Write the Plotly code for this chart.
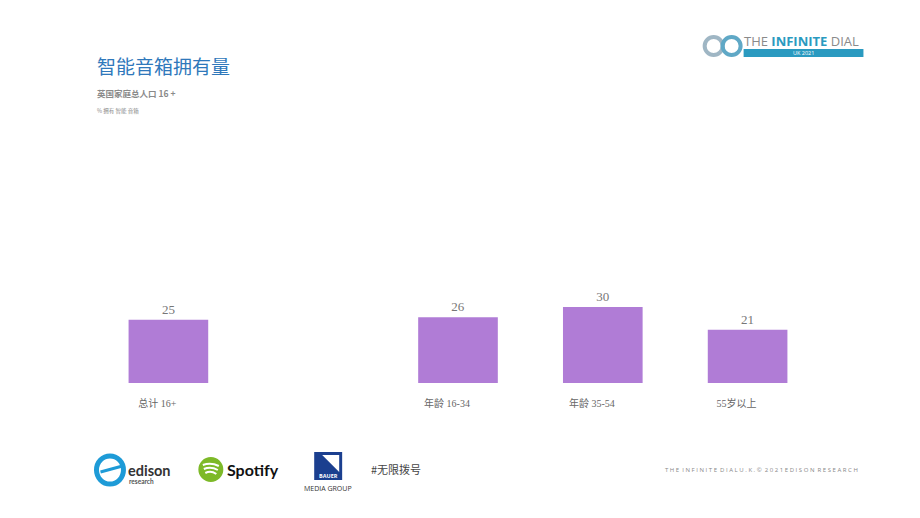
import plotly.graph_objects as go

categories = ["总计 16+", " ", "年龄 16-34", "年龄 35-54", "55岁以上"]
values = [25, None, 26, 30, 21]
labels = ["25", "", "26", "30", "21"]

W_PX, H_PX = 920, 518
L, R, T, B = 95.5, 99.5, 130, 135
PW = W_PX - L - R
PH = H_PX - T - B


def xp(px):
    return (px - L) / PW


def yp(py):
    return (T + PH - py) / PH


fig = go.Figure()
fig.add_trace(go.Bar(
    x=categories, y=values, width=0.55,
    marker=dict(color="#b07cd6", line=dict(width=0)),
    text=labels, textposition="outside", cliponaxis=False,
    textfont=dict(family="Liberation Serif", size=13, color="#777777"),
    hoverinfo="skip",
))

shapes = []
ann = []


def text(px, py, s, size, color, anchor="left", family="Noto Sans CJK SC", yanchor="middle"):
    ann.append(dict(x=xp(px), y=yp(py), xref="paper", yref="paper", text=s, showarrow=False,
                    xanchor=anchor, yanchor=yanchor, borderpad=0,
                    font=dict(size=size, color=color, family=family)))


# Titles
text(95, 66, "智能音箱拥有量", 19, "#2f78bb")
text(95, 93, "<b>英国家庭总人口 16 +</b>", 8.5, "#8a8a8a")
text(95, 111, "% 拥有 智能 音箱", 5.5, "#8a8a8a")

# Infinite Dial logo
for cx, col in [(714, "#9fb6c4"), (732, "#5fa8c6")]:
    shapes.append(dict(type="circle", xref="paper", yref="paper",
                       x0=xp(cx - 9), x1=xp(cx + 9), y0=yp(46 + 9), y1=yp(46 - 9),
                       line=dict(color=col, width=4)))
text(743, 41, "THE <b><span style='color:#2a9ac0'>INFINITE</span></b> DIAL", 13, "#8a8a8a", family="Open Sans")
shapes.append(dict(type="rect", xref="paper", yref="paper",
                   x0=xp(744), x1=xp(864), y0=yp(57), y1=yp(49),
                   fillcolor="#2a9ac0", line=dict(width=0)))
text(804, 53.5, "UK 2021", 5.5, "#ffffff", anchor="center", family="Open Sans")

# Edison logo
shapes.append(dict(type="circle", xref="paper", yref="paper",
                   x0=xp(96), x1=xp(123), y0=yp(484), y1=yp(456),
                   line=dict(color="#1e9bd7", width=5)))
shapes.append(dict(type="line", xref="paper", yref="paper",
                   x0=xp(100), x1=xp(122), y0=yp(472), y1=yp(466),
                   line=dict(color="#1e9bd7", width=3)))
text(127, 470, "<b>edison</b>", 14.5, "#333333", family="Lato")
text(128, 481, "<b>research</b>", 6.5, "#555555", family="Lato")

# Spotify logo
shapes.append(dict(type="circle", xref="paper", yref="paper",
                   x0=xp(198), x1=xp(223), y0=yp(482), y1=yp(457),
                   fillcolor="#7db928", line=dict(width=0)))
for dy, w in [(-4, 8), (0, 7), (4, 5.5)]:
    shapes.append(dict(type="path", xref="paper", yref="paper",
                       path=f"M {xp(210.5 - w)},{yp(469 + dy)} Q {xp(210.5)},{yp(469 + dy - 3)} {xp(210.5 + w)},{yp(469 + dy + 1)}",
                       line=dict(color="#ffffff", width=2)))
text(226, 469, "<b>Spotify</b>", 16, "#111111", family="Lato")

# Bauer logo
shapes.append(dict(type="rect", xref="paper", yref="paper",
                   x0=xp(314), x1=xp(342), y0=yp(480), y1=yp(452),
                   fillcolor="#1b3f8f", line=dict(width=0)))
shapes.append(dict(type="path", xref="paper", yref="paper",
                   path=f"M {xp(322)},{yp(455)} L {xp(339)},{yp(455)} L {xp(339)},{yp(472)} Z",
                   fillcolor="#ffffff", line=dict(width=0)))
text(328, 475.5, "<b>BAUER</b>", 5.5, "#ffffff", anchor="center", family="Open Sans")
text(328, 488, "MEDIA GROUP", 7, "#333333", anchor="center", family="Open Sans")

text(370, 469, "#无限拨号", 11, "#444444")

# Footer
footer = "THE INFINITE DIALU.K.© 2021EDISON RESEARCH"
text(860, 470, " ".join(list(footer)).replace("   ", "  "), 6, "#888888", anchor="right", family="Open Sans")

fig.update_layout(
    width=W_PX, height=H_PX,
    margin=dict(l=L, r=R, t=T, b=B, pad=0),
    paper_bgcolor="#ffffff", plot_bgcolor="#ffffff",
    showlegend=False, bargap=0.45,
    xaxis=dict(type="category", categoryorder="array", categoryarray=categories,
               range=[-0.5, 4.5], showgrid=False, zeroline=False, showline=False,
               ticks="", ticklen=0, ticklabelstandoff=13, ticklabelshift=-11,
               tickfont=dict(family="Liberation Serif, Noto Sans CJK SC", size=10, color="#666666")),
    yaxis=dict(range=[0, 100], visible=False, showgrid=False, zeroline=False),
    shapes=shapes, annotations=ann,
)

fig.write_html("out.html")
